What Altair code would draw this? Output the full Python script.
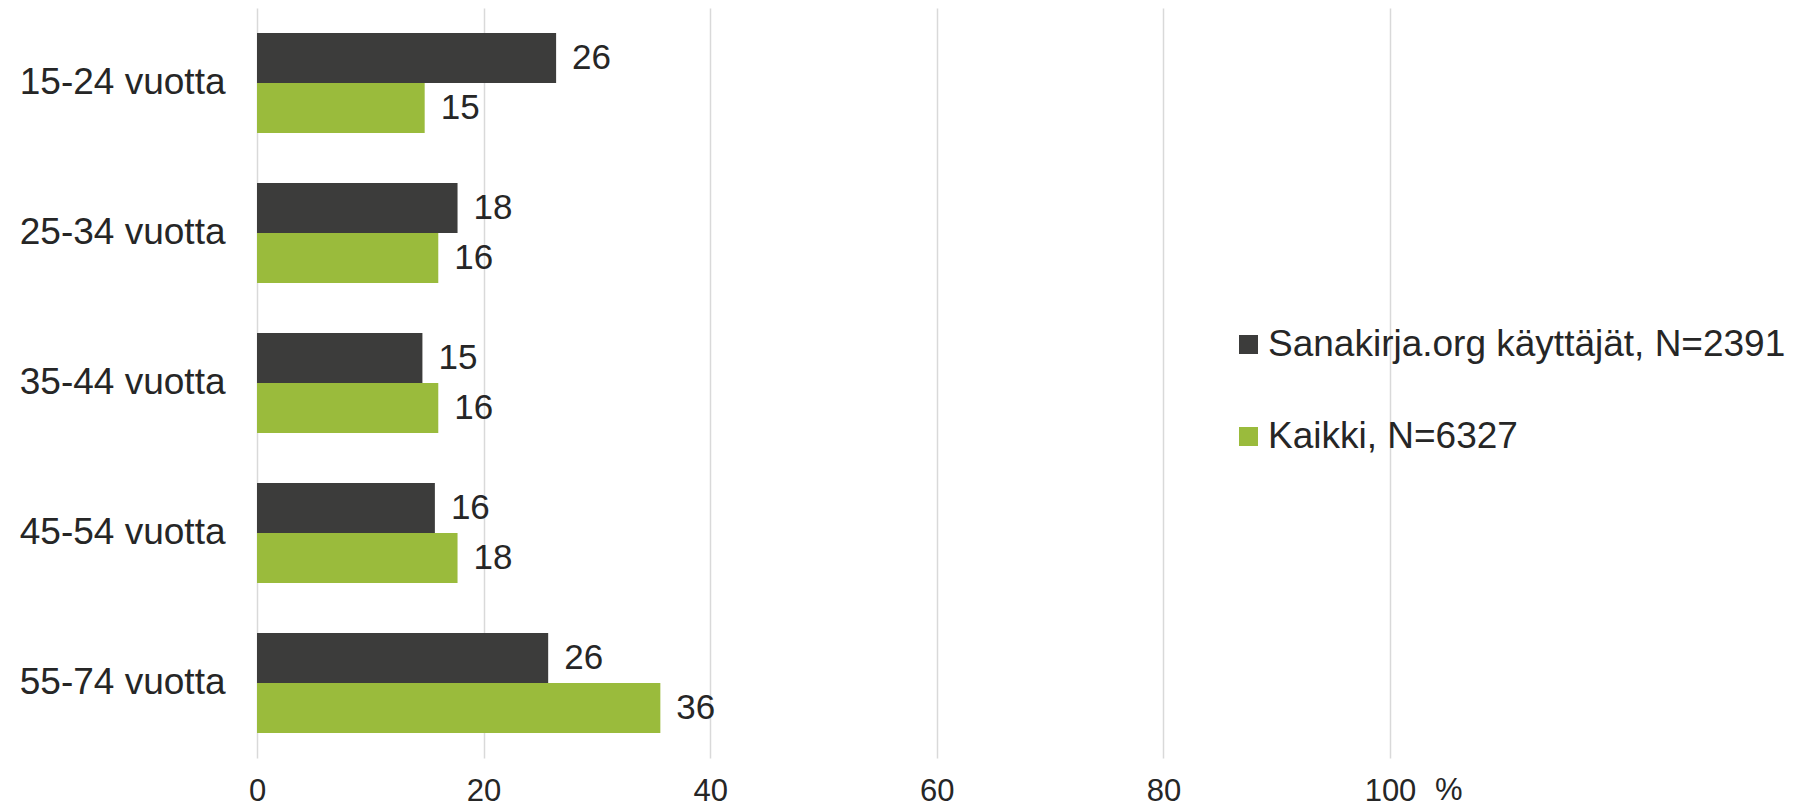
import altair as alt
import pandas as pd

categories = ["15-24 vuotta", "25-34 vuotta", "35-44 vuotta", "45-54 vuotta", "55-74 vuotta"]
series = ["Sanakirja.org käyttäjät, N=2391", "Kaikki, N=6327"]
sanakirja_values = [26.4, 17.7, 14.6, 15.7, 25.7]
kaikki_values = [14.8, 16.0, 16.0, 17.7, 35.6]
sanakirja_labels = ["26", "18", "15", "16", "26"]
kaikki_labels = ["15", "16", "16", "18", "36"]
x_ticks = [0, 20, 40, 60, 80, 100]
unit_label = ["%"]
colors = ["#3c3c3b", "#9abb3c"]

rows = []
for c, v, l in zip(categories, sanakirja_values, sanakirja_labels):
    rows.append({"cat": c, "series": series[0], "value": v, "label": l})
for c, v, l in zip(categories, kaikki_values, kaikki_labels):
    rows.append({"cat": c, "series": series[1], "value": v, "label": l})
df = pd.DataFrame(rows)
pct_df = pd.DataFrame({"x": [x_ticks[-1]], "t": unit_label})

FONT = "Liberation Sans"
TXT = "#262626"
W, H = 1133, 750
XLP = 18
TICKFS = 31

xscale = alt.Scale(domain=[0, 100], nice=False)

base = alt.Chart(df).encode(
    y=alt.Y("cat:N", sort=categories, title=None,
            scale=alt.Scale(paddingInner=1/3, paddingOuter=1/6),
            axis=alt.Axis(domain=False, ticks=False, labelPadding=32, labelFontSize=37,
                          labelFont=FONT, labelColor=TXT, grid=False, labelLimit=0)),
    yOffset=alt.YOffset("series:N", sort=series,
                        scale=alt.Scale(paddingInner=0, paddingOuter=0)),
)

bars = base.mark_bar().encode(
    x=alt.X("value:Q", scale=xscale, title=None,
            axis=alt.Axis(values=x_ticks, grid=True, gridColor="#d9d9d9", gridWidth=1.5,
                          domain=False, ticks=False, tickSize=0, labelPadding=XLP,
                          labelFlush=False, labelFontSize=TICKFS, labelFont=FONT,
                          labelColor=TXT)),
    color=alt.Color("series:N", sort=series,
                    scale=alt.Scale(domain=series, range=colors),
                    legend=alt.Legend(title=None, orient="none", legendX=973, legendY=318,
                                      symbolType="square", symbolSize=361, symbolStrokeWidth=0,
                                      labelFontSize=37, labelFont=FONT, labelColor=TXT,
                                      rowPadding=54, labelOffset=1, padding=0,
                                      labelLimit=0)),
)

texts = base.mark_text(align="left", baseline="middle", dx=16, fontSize=35,
                       font=FONT, color=TXT).encode(
    x=alt.X("value:Q", scale=xscale),
    text="label:N",
)

pct = alt.Chart(pct_df).mark_text(align="left", baseline="top", dx=45, fontSize=TICKFS,
                                  font=FONT, color=TXT).encode(
    x=alt.X("x:Q", scale=xscale),
    y=alt.value(H + XLP),
    text="t:N",
)

chart = alt.layer(bars, texts, pct).properties(
    width=W, height=H,
    autosize=alt.AutoSizeParams(type="none"),
    padding={"left": 249, "top": 0, "right": 415, "bottom": 46},
    background="white",
).configure_view(stroke=None)

chart.save("out.html", embed_options={"renderer": "svg", "actions": False})
